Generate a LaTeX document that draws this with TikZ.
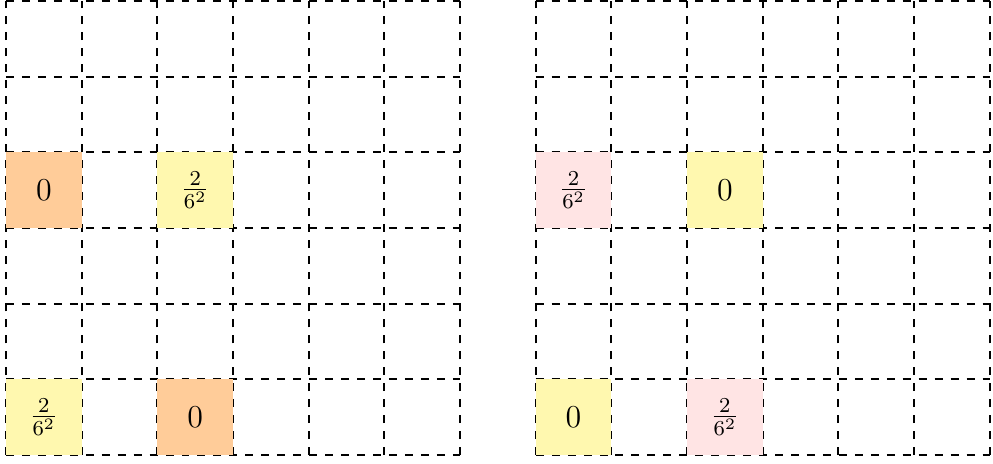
\documentclass[tikz,border=0pt]{standalone}
\usepackage{xcolor}
\definecolor{cOrange}{RGB}{255,204,153}
\definecolor{cYellow}{RGB}{255,248,175}
\definecolor{cPink}{RGB}{255,228,228}
\begin{document}
\begin{tikzpicture}[
  gridline/.style={thick,dashed},
  cellbox/.style={minimum size=1cm,inner sep=0pt,outer sep=0pt,font=\large},
]
\useasboundingbox (-0.079,-0.106) rectangle (13.043,6.013);
\draw[gridline] (0,0) grid (6,6);
\draw[gridline] (7,0) grid (13,6);
% left grid
\node[cellbox,fill=cOrange] (l1) at (0.5,3.5) {$0$};
\node[cellbox,fill=cYellow] (l2) at (2.5,3.5) {$\frac{2}{6^2}$};
\node[cellbox,fill=cYellow] (l3) at (0.5,0.5) {$\frac{2}{6^2}$};
\node[cellbox,fill=cOrange] (l4) at (2.5,0.5) {$0$};
% right grid
\node[cellbox,fill=cPink] (r1) at (7.5,3.5) {$\frac{2}{6^2}$};
\node[cellbox,fill=cYellow] (r2) at (9.5,3.5) {$0$};
\node[cellbox,fill=cYellow] (r3) at (7.5,0.5) {$0$};
\node[cellbox,fill=cPink] (r4) at (9.5,0.5) {$\frac{2}{6^2}$};
\end{tikzpicture}
\end{document}
